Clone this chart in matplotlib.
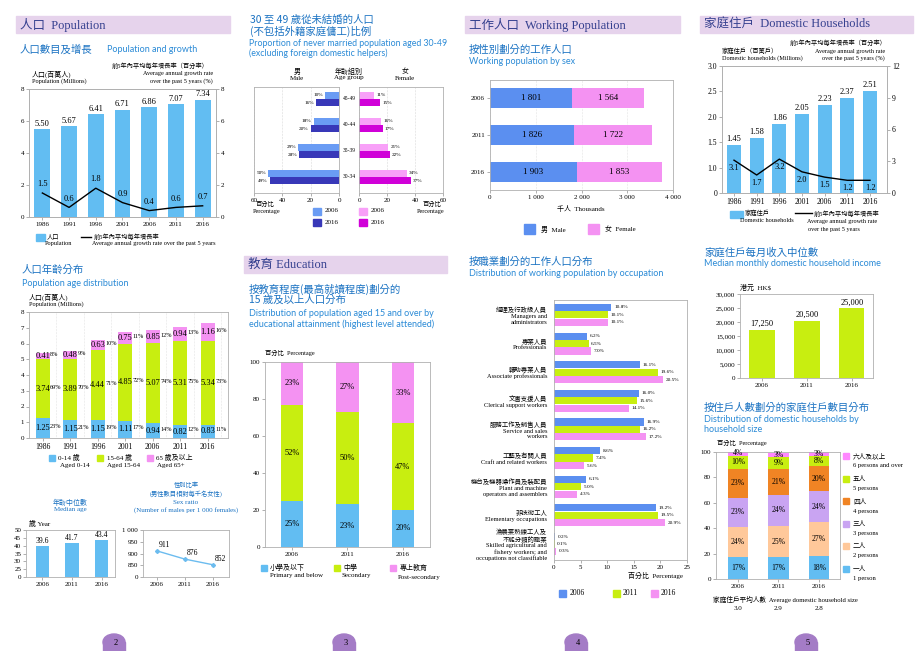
import numpy as np
import matplotlib.pyplot as plt
from matplotlib.patches import Rectangle, Ellipse
from matplotlib.ticker import FuncFormatter

W, H = 920, 651
SERIF = ['Liberation Serif', 'Noto Sans CJK TC']
SANS = ['Lato', 'Noto Sans CJK TC']
plt.rcParams['font.family'] = SERIF

# ---- data ----
years7 = ['1986', '1991', '1996', '2001', '2006', '2011', '2016']
population = [5.50, 5.67, 6.41, 6.71, 6.86, 7.07, 7.34]
pop_growth = [1.5, 0.6, 1.8, 0.9, 0.4, 0.6, 0.7]

age_0_14 = [1.25, 1.15, 1.15, 1.11, 0.94, 0.82, 0.83]
age_15_64 = [3.74, 3.89, 4.44, 4.85, 5.07, 5.31, 5.34]
age_65 = [0.41, 0.48, 0.63, 0.75, 0.85, 0.94, 1.16]
pct_0_14 = ['23%', '21%', '19%', '17%', '14%', '12%', '11%']
pct_15_64 = ['69%', '70%', '71%', '72%', '74%', '75%', '73%']
pct_65 = ['8%', '9%', '10%', '11%', '12%', '13%', '16%']

years3 = ['2006', '2011', '2016']
median_age = [39.6, 41.7, 43.4]
sex_ratio = [911, 876, 852]

age_groups = ['45-49', '40-44', '35-39', '30-34']
male_2006 = [10, 18, 29, 50]
male_2016 = [16, 20, 28, 49]
female_2006 = [11, 16, 21, 34]
female_2016 = [15, 17, 22, 37]

edu_primary = [25, 23, 20]
edu_secondary = [52, 50, 47]
edu_post = [23, 27, 33]

work_male = [1801, 1826, 1903]
work_female = [1564, 1722, 1853]

occupations = [
    '經理及行政級人員\nManagers and\nadministrators',
    '專業人員\nProfessionals',
    '輔助專業人員\nAssociate professionals',
    '文書支援人員\nClerical support workers',
    '服務工作及銷售人員\nService and sales\nworkers',
    '工藝及有關人員\nCraft and related workers',
    '機台及機器操作員及裝配員\nPlant and machine\noperators and assemblers',
    '非技術工人\nElementary occupations',
    '漁農業熟練工人及\n不能分類的職業\nSkilled agricultural and\nfishery workers; and\noccupations not classifiable',
]
occ_2006 = [10.8, 6.2, 16.1, 16.0, 16.9, 8.6, 6.1, 19.2, 0.2]
occ_2011 = [10.1, 6.5, 19.6, 15.6, 16.2, 7.4, 5.0, 19.5, 0.1]
occ_2016 = [10.1, 7.0, 20.5, 14.1, 17.2, 5.6, 4.3, 20.9, 0.3]

households = [1.45, 1.58, 1.86, 2.05, 2.23, 2.37, 2.51]
hh_growth = [3.1, 1.7, 3.2, 2.0, 1.5, 1.2, 1.2]

median_income = [17250, 20500, 25000]

hh_1 = [17, 17, 18]
hh_2 = [24, 25, 27]
hh_3 = [23, 24, 24]
hh_4 = [23, 21, 20]
hh_5 = [10, 9, 8]
hh_6 = [4, 3, 3]
hh_names = [('一人', '1 person'), ('二人', '2 persons'), ('三人', '3 persons'),
            ('四人', '4 persons'), ('五人', '5 persons'), ('六人及以上', '6 persons and over')]
avg_hh_size = ['3.0', '2.9', '2.8']

# ---- colours ----
BLUE = '#62bdf2'
GREEN = '#c8ee10'
PINK = '#f492f2'
MBLUE = '#5b8ff0'
TITLE_C = '#1a72c2'
TITLE_E = '#2a8ad6'
HEAD_BG = '#e6d3ec'
HEAD_TX = '#35408f'

fig = plt.figure(figsize=(9.2, 6.51), dpi=100)
bg = fig.add_axes([0, 0, 1, 1], zorder=-1)
bg.set_xlim(0, W)
bg.set_ylim(H, 0)
bg.axis('off')


def T(x, y, s, size=5, color='black', ha='left', va='center', fam=SERIF, **kw):
    bg.text(x, y, s, fontsize=size, color=color, ha=ha, va=va, family=fam, **kw)


def panel(l, t, r, b):
    ax = fig.add_axes([l / W, 1 - b / H, (r - l) / W, (b - t) / H])
    for s in ax.spines.values():
        s.set_color('#b0b0b0')
        s.set_linewidth(0.6)
    ax.tick_params(labelsize=5, length=2, width=0.5, color='#909090', pad=1.5)
    return ax


def header(x0, x1, y0, y1, s):
    bg.add_patch(Rectangle((x0, y0), x1 - x0, y1 - y0, color=HEAD_BG))
    T(x0 + 4, (y0 + y1) / 2, s, size=9, color=HEAD_TX)


def ctitle(x, y, s):
    T(x, y, s, size=7.5, color=TITLE_C, fam=['Noto Sans CJK TC'])


def etitle(x, y, s):
    T(x, y, s, size=6.5, color=TITLE_E, fam=SANS)


def box(x, y, c, w=7, h=7):
    bg.add_patch(Rectangle((x, y - h / 2), w, h, color=c))


# ================= Page 2 =================
header(16, 230, 16, 33, '人口  Population')
ctitle(20, 50, '人口數目及增長')
etitle(107, 50, 'Population and growth')
T(160, 66, '前5年內平均每年增長率（百分率）', size=4.5, ha='center')
T(32, 74, '人口(百萬人)', size=5)
T(32, 81, 'Population (Millions)', size=4.5)
T(213, 74, 'Average annual growth rate', size=4.5, ha='right')
T(213, 81, 'over the past 5 years (%)', size=4.5, ha='right')

ax = panel(29, 89, 216, 217)
x = np.arange(7)
ax.bar(x, population, 0.59, color=BLUE, zorder=2)
ax.set_xlim(-0.5, 6.5)
ax.set_ylim(0, 8)
ax.set_yticks([0, 2, 4, 6, 8])
ax.set_xticks(x, years7)
for xi, v in zip(x, population):
    ax.text(xi, v + 0.08, f'{v:.2f}', ha='center', va='bottom', fontsize=6)
ax2 = ax.twinx()
ax2.plot(x, pop_growth, color='black', lw=1)
ax2.set_ylim(0, 8)
ax2.set_yticks([0, 2, 4, 6, 8])
ax2.tick_params(labelsize=5, length=2, width=0.5, color='#909090', pad=1.5)
for s in ax2.spines.values():
    s.set_color('#b0b0b0')
    s.set_linewidth(0.6)
for xi, v in zip(x, pop_growth):
    ax2.text(xi, v + 0.55, f'{v:.1f}', ha='center', va='center', fontsize=6)
box(36, 237, BLUE, 9, 7)
T(47, 236, '人口', size=4.5)
T(45, 244, 'Population', size=4.5)
bg.plot([81, 91], [237, 237], color='black', lw=1)
T(94, 237, '前5年內平均每年增長率', size=4.5)
T(92, 244, 'Average annual growth rate over the past 5 years', size=4.5)

# age distribution
ctitle(22, 270, '人口年齡分布')
etitle(22, 283, 'Population age distribution')
T(29, 297, '人口(百萬人)', size=5)
T(29, 304, 'Population (Millions)', size=4.5)
ax = panel(29, 312, 228, 438)
b1 = np.array(age_0_14)
b2 = b1 + np.array(age_15_64)
ax.bar(x, age_0_14, 0.5, color=BLUE, zorder=2)
ax.bar(x, age_15_64, 0.5, bottom=b1, color=GREEN, zorder=2)
ax.bar(x, age_65, 0.5, bottom=b2, color=PINK, zorder=2)
for xi in x:
    for bot, v, p in [(0, age_0_14[xi], pct_0_14[xi]),
                      (b1[xi], age_15_64[xi], pct_15_64[xi]),
                      (b2[xi], age_65[xi], pct_65[xi])]:
        ax.text(xi, bot + v / 2, f'{v:.2f}', ha='center', va='center', fontsize=6)
        ax.text(xi + 0.27, bot + v / 2 + 0.1, p, ha='left', va='center', fontsize=4.5)
ax.set_xlim(-0.5, 6.74)
ax.set_ylim(0, 8)
ax.set_yticks(range(9))
ax.set_xticks(x, years7)
ax.tick_params(axis='x', labelsize=5.5)
for xi in np.arange(-0.5, 7, 1):
    ax.axvline(xi, color='#cccccc', lw=0.4, ls=':', zorder=1)
box(49, 458, BLUE, 6, 6)
T(58, 457, '0-14 歲', size=5)
T(60, 465, 'Aged 0-14', size=5)
box(97, 458, GREEN, 6, 6)
T(107, 457, '15-64 歲', size=5)
T(107, 465, 'Aged 15-64', size=5)
box(147, 458, PINK, 6, 6)
T(156, 457, '65 歲及以上', size=5)
T(157, 465, 'Aged 65+', size=5)

# median age
T(70, 502, '年齡中位數', size=5, color=TITLE_C, ha='center')
T(70, 510, 'Median age', size=5, color=TITLE_C, ha='center')
T(29, 523, '歲 Year', size=5)
ax = panel(26, 530, 115, 577)
x3 = np.arange(3)
ax.bar(x3, median_age, 0.45, color=BLUE, zorder=2)
ax.set_xlim(-0.55, 2.45)
ax.set_ylim(20, 50)
ax.set_yticks([20, 25, 30, 35, 40, 45, 50], ['0', '25', '30', '35', '40', '45', '50'])
ax.set_xticks(x3, years3)
for xi, v in zip(x3, median_age):
    ax.text(xi, v + 0.8, f'{v:.1f}', ha='center', va='bottom', fontsize=5.5)

T(186, 485, '性別比率', size=4.5, color=TITLE_C, ha='center')
T(186, 494, '(男性數目相對每千名女性)', size=4.5, color=TITLE_C, ha='center')
T(186, 502, 'Sex ratio', size=5, color=TITLE_C, ha='center')
T(186, 510, '(Number of males per 1 000 females)', size=5, color=TITLE_C, ha='center')
ax = panel(143, 530, 229, 577)
ax.plot(x3, sex_ratio, color='#6cbcef', lw=1, marker='D', markersize=2)
ax.set_xlim(-0.5, 2.57)
ax.set_ylim(800, 1000)
ax.set_yticks([800, 850, 900, 950, 1000], ['0', '850', '900', '950', '1 000'])
ax.set_xticks(x3, years3)
for xi, v in zip(x3, sex_ratio):
    ax.text(xi + 0.05, v + 8, str(v), ha='left', va='bottom', fontsize=5.5)

# ================= Page 3 =================
ctitle(250, 20, '30 至 49 歲從未結婚的人口')
ctitle(250, 31, '(不包括外籍家庭傭工)比例')
T(249, 43, 'Proportion of never married population aged 30-49', size=6.3, color=TITLE_E, fam=SANS)
T(249, 53, '(excluding foreign domestic helpers)', size=6.3, color=TITLE_E, fam=SANS)
T(297, 71, '男', size=5, ha='center')
T(297, 78, 'Male', size=5, ha='center')
T(349, 71, '年齡組別', size=5, ha='center')
T(349, 78, 'Age group', size=5, ha='center')
T(405, 71, '女', size=5, ha='center')
T(405, 78, 'Female', size=5, ha='center')

M06, M16, F06, F16 = '#6a9cf4', '#3838b8', '#f8a0f8', '#d000d8'
y4 = np.array([3, 2, 1, 0])
axl = panel(254, 87, 339, 193)
axl.barh(y4 + 0.14, male_2006, 0.28, color=M06, zorder=2)
axl.barh(y4 - 0.14, male_2016, 0.28, color=M16, zorder=2)
axl.set_xlim(60, 0)
axl.set_ylim(-0.62, 3.46)
axl.set_xticks([60, 40, 20, 0])
axl.set_yticks([])
axl.grid(axis='x', color='#bbbbbb', lw=0.4, ls=':')
for yi, a, b in zip(y4, male_2006, male_2016):
    axl.text(a + 1.5, yi + 0.14, f'{a}%', ha='right', va='center', fontsize=3.8)
    axl.text(b + 1.5, yi - 0.14, f'{b}%', ha='right', va='center', fontsize=3.8)
for yi, g in zip(y4, age_groups):
    axl.text(1.118, yi, g, transform=axl.get_yaxis_transform(), ha='center', va='center', fontsize=4)
axr = panel(359, 87, 443, 193)
axr.barh(y4 + 0.14, female_2006, 0.28, color=F06, zorder=2)
axr.barh(y4 - 0.14, female_2016, 0.28, color=F16, zorder=2)
axr.set_xlim(0, 60)
axr.set_ylim(-0.62, 3.46)
axr.set_xticks([0, 20, 40, 60])
axr.set_yticks([])
axr.grid(axis='x', color='#bbbbbb', lw=0.4, ls=':')
for yi, a, b in zip(y4, female_2006, female_2016):
    axr.text(a + 1.5, yi + 0.14, f'{a}%', ha='left', va='center', fontsize=3.8)
    axr.text(b + 1.5, yi - 0.14, f'{b}%', ha='left', va='center', fontsize=3.8)
T(256, 204, '百分比', size=4.5)
T(253, 211, 'Percentage', size=4.5)
T(441, 204, '百分比', size=4.5, ha='right')
T(444, 211, 'Percentage', size=4.5, ha='right')
box(313, 211, M06, 8, 7)
T(325, 211, '2006', size=5)
box(313, 222, M16, 8, 7)
T(325, 222, '2016', size=5)
box(359, 211, F06, 8, 7)
T(371, 211, '2006', size=5)
box(359, 222, F16, 8, 7)
T(371, 222, '2016', size=5)

# education
header(244, 447, 256, 273, '教育 Education')
ctitle(249, 289, '按教育程度(最高就讀程度)劃分的')
ctitle(249, 300, '15 歲及以上人口分布')
etitle(249, 313, 'Distribution of population aged 15 and over by')
etitle(249, 324, 'educational attainment (highest level attended)')
T(265, 353, '百分比  Percentage', size=4.5)
ax = panel(265, 362, 430, 547)
e1 = np.array(edu_primary)
e2 = e1 + np.array(edu_secondary)
ax.bar(x3, edu_primary, 0.4, color=BLUE, zorder=2)
ax.bar(x3, edu_secondary, 0.4, bottom=e1, color=GREEN, zorder=2)
ax.bar(x3, edu_post, 0.4, bottom=e2, color=PINK, zorder=2)
for xi in x3:
    for bot, v in [(0, edu_primary[xi]), (e1[xi], edu_secondary[xi]), (e2[xi], edu_post[xi])]:
        ax.text(xi, bot + v / 2, f'{v}%', ha='center', va='center', fontsize=6)
ax.set_xlim(-0.49, 2.49)
ax.set_ylim(0, 100)
ax.set_yticks(range(0, 101, 20))
ax.set_xticks(x3, years3)
box(261, 568, BLUE, 6, 6)
T(270, 567, '小學及以下', size=5)
T(270, 576, 'Primary and below', size=5)
box(334, 568, GREEN, 6, 6)
T(343, 567, '中學', size=5)
T(342, 576, 'Secondary', size=5)
box(390, 568, PINK, 6, 6)
T(400, 567, '專上教育', size=5)
T(398, 577, 'Post-secondary', size=5)

# ================= Page 4 =================
header(465, 680, 16, 33, '工作人口  Working Population')
ctitle(469, 50, '按性別劃分的工作人口')
etitle(469, 61, 'Working population by sex')
ax = panel(490, 80, 673, 190)
yw = np.array([2, 1, 0])
ax.barh(yw, work_male, 0.54, color=MBLUE, zorder=2)
ax.barh(yw, work_female, 0.54, left=work_male, color=PINK, zorder=2)
for yi, m, f in zip(yw, work_male, work_female):
    ax.text(m / 2, yi, f'{m // 1000} {m % 1000:03d}', ha='center', va='center', fontsize=6.5)
    ax.text(m + f / 2, yi, f'{f // 1000} {f % 1000:03d}', ha='center', va='center', fontsize=6.5)
ax.set_xlim(0, 4000)
ax.set_ylim(-0.49, 2.49)
ax.set_yticks(yw, years3)
ax.set_xticks([0, 1000, 2000, 3000, 4000], ['0', '1 000', '2 000', '3 000', '4 000'])
ax.grid(axis='x', color='#cccccc', lw=0.4, ls=':')
T(581, 208, '千人  Thousands', size=5, ha='center')
box(524, 229, MBLUE, 11, 10)
T(541, 229, '男  Male', size=5)
box(588, 229, PINK, 11, 10)
T(605, 229, '女  Female', size=5)

# occupation
ctitle(469, 262, '按職業劃分的工作人口分布')
etitle(469, 273, 'Distribution of working population by occupation')
ax = panel(554, 300, 687, 560)
yo = np.arange(9)
ax.barh(yo - 0.26, occ_2006, 0.25, color=MBLUE, zorder=2)
ax.barh(yo, occ_2011, 0.25, color=GREEN, zorder=2)
ax.barh(yo + 0.26, occ_2016, 0.25, color=PINK, zorder=2)
for yi in yo:
    for off, v in [(-0.26, occ_2006[yi]), (0, occ_2011[yi]), (0.26, occ_2016[yi])]:
        ax.text(v + 0.5, yi + off, f'{v:.1f}%', ha='left', va='center', fontsize=3.8)
ax.set_xlim(0, 25)
ax.set_ylim(8.56, -0.52)
ax.set_xticks(range(0, 26, 5))
ax.set_yticks(yo, occupations, fontsize=4.6, linespacing=1.15)
ax.tick_params(axis='y', length=0, pad=5)
T(683, 575, '百分比  Percentage', size=5, ha='right')
box(559, 593, MBLUE, 7, 7)
T(570, 593, '2006', size=5.5)
box(613, 593, GREEN, 7, 7)
T(623, 593, '2011', size=5.5)
box(651, 593, PINK, 7, 7)
T(661, 593, '2016', size=5.5)

# ================= Page 5 =================
header(700, 913, 16, 33, '家庭住戶  Domestic Households')
T(838, 43, '前5年內平均每年增長率（百分率）', size=4.5, ha='center')
T(722, 51, '家庭住戶（百萬戶）', size=4.5)
T(722, 58, 'Domestic households (Millions)', size=4.5)
T(885, 51, 'Average annual growth rate', size=4.5, ha='right')
T(885, 58, 'over the past 5 years (%)', size=4.5, ha='right')
ax = panel(722, 66, 887, 193)
ax.bar(x, households, 0.62, color=BLUE, zorder=2)
ax.set_xlim(-0.53, 6.75)
ax.set_ylim(0.5, 3.0)
ax.set_yticks([0.5, 1.0, 1.5, 2.0, 2.5, 3.0], ['0', '1.0', '1.5', '2.0', '2.5', '3.0'])
ax.set_xticks(x, years7)
ax.tick_params(labelsize=5.5)
for xi, v in zip(x, households):
    ax.text(xi, v + 0.04, f'{v:.2f}', ha='center', va='bottom', fontsize=6)
ax2 = ax.twinx()
ax2.plot(x, hh_growth, color='black', lw=1)
ax2.set_ylim(0, 12)
ax2.set_yticks([0, 3, 6, 9, 12])
ax2.tick_params(labelsize=5.5, length=2, width=0.5, color='#909090', pad=1.5)
for s in ax2.spines.values():
    s.set_color('#b0b0b0')
    s.set_linewidth(0.6)
for xi, v in zip(x, hh_growth):
    ax2.text(xi, v - 0.75, f'{v:.1f}', ha='center', va='center', fontsize=6)
box(730, 214, BLUE, 13, 7)
T(745, 213, '家庭住戶', size=4.5)
T(740, 221, 'Domestic households', size=4.5)
bg.plot([795, 812], [213, 213], color='black', lw=1)
T(814, 214, '前5年內平均每年增長率', size=4.5)
T(807, 222, 'Average annual growth rate', size=4.5)
T(808, 229, 'over the past 5 years', size=4.5)

# median income
ctitle(704, 253, '家庭住戶每月收入中位數')
etitle(704, 264, 'Median monthly domestic household income')
T(740, 287, '港元  HK$', size=5)
ax = panel(740, 294, 873, 378)
ax.bar(x3, median_income, 0.56, color=GREEN, zorder=2)
ax.set_xlim(-0.49, 2.47)
ax.set_ylim(0, 30000)
ax.set_yticks(range(0, 30001, 5000))
ax.yaxis.set_major_formatter(FuncFormatter(lambda v, p: f'{int(v):,}'))
ax.set_xticks(x3, years3)
for xi, v in zip(x3, median_income):
    ax.text(xi, v + 600, f'{v:,}', ha='center', va='bottom', fontsize=6)

# household size
ctitle(704, 408, '按住戶人數劃分的家庭住戶數目分布')
etitle(704, 419, 'Distribution of domestic households by')
etitle(704, 430, 'household size')
T(717, 443, '百分比  Percentage', size=4.5)
ax = panel(716, 452, 840, 579)
hh_cols = [BLUE, '#ffc89a', '#c9a4f2', '#f08424', GREEN, '#ff88ff']
bottom = np.zeros(3)
for vals, c in zip([hh_1, hh_2, hh_3, hh_4, hh_5, hh_6], hh_cols):
    ax.bar(x3, vals, 0.51, bottom=bottom, color=c, zorder=2)
    for xi in x3:
        ax.text(xi, bottom[xi] + vals[xi] / 2, f'{vals[xi]}%', ha='center', va='center', fontsize=5.5)
    bottom = bottom + np.array(vals)
ax.set_xlim(-0.54, 2.52)
ax.set_ylim(0, 100)
ax.set_yticks(range(0, 101, 20))
ax.set_xticks(x3, years3)
for i, ((cj, en), c) in enumerate(zip(hh_names[::-1], hh_cols[::-1])):
    yy = 456 + 22.5 * i
    box(843, yy, c, 6, 6)
    T(853, yy, cj, size=4.8)
    T(853, yy + 10, en, size=4.8)
T(713, 599, '家庭住戶平均人數  Average domestic household size', size=4.8)
for xc, s in zip([738, 778, 819], avg_hh_size):
    T(xc, 609, s, size=5, ha='center')

# page tabs
for cx, n in zip([114, 344, 576, 806], ['2', '3', '4', '5']):
    bg.add_patch(Rectangle((cx - 11, 642), 22, 10, color='#a47cc6'))
    bg.add_patch(Ellipse((cx, 642), 22, 16, color='#a47cc6'))
    T(cx, 643, n, size=6)

fig.savefig('out.png', dpi=100, facecolor='white')
